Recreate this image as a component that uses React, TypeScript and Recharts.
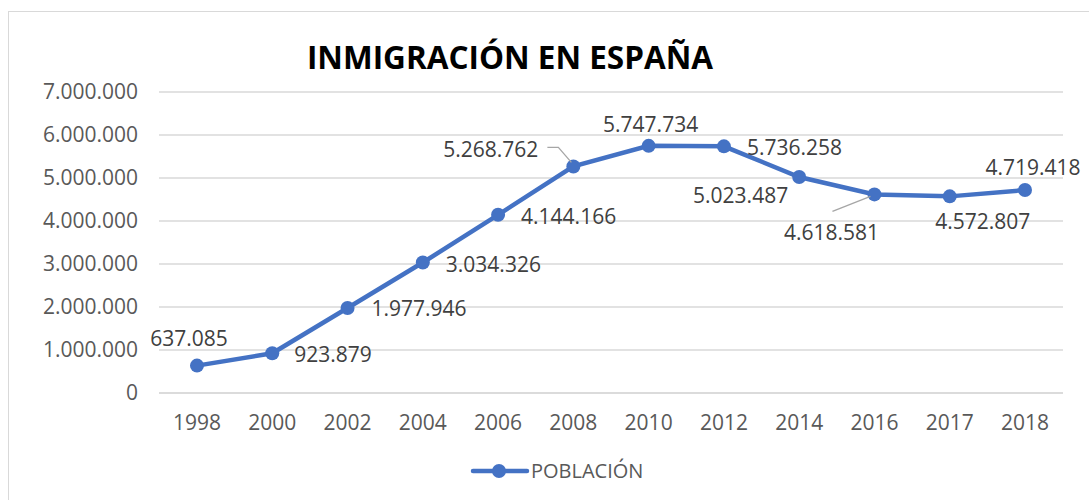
import { LineChart, Line, XAxis, YAxis, CartesianGrid } from "recharts";

const years = ["1998", "2000", "2002", "2004", "2006", "2008", "2010", "2012", "2014", "2016", "2017", "2018"];
const poblacion = [637085, 923879, 1977946, 3034326, 4144166, 5268762, 5747734, 5736258, 5023487, 4618581, 4572807, 4719418];
const yTicks = [0, 1000000, 2000000, 3000000, 4000000, 5000000, 6000000, 7000000];

const data = years.map((year, i) => ({ year, value: poblacion[i] }));

// where each data label sits relative to its point: [dx, dy, anchor]
const labelPos: Array<[number, number, "start" | "middle" | "end"]> = [
  [-8, -27, "middle"],
  [22, 1, "start"],
  [24, 1, "start"],
  [23, 2, "start"],
  [23, 2, "start"],
  [-35, -17, "end"],
  [2, -21, "middle"],
  [23, 1, "start"],
  [-11, 19, "end"],
  [-43, 38, "middle"],
  [33, 25, "middle"],
  [8, -23, "middle"],
];

const blue = "#4472C4";
const font = "'Open Sans', sans-serif";

const fmt = (v: number) => String(v).replace(/\B(?=(\d{3})+(?!\d))/g, ".");

function DataLabel(props: any) {
  const { x, y, value, index } = props;
  const [dx, dy, anchor] = labelPos[index];
  return (
    <g>
      {index === 5 && (
        <polyline
          points={`${x - 26},${y - 19} ${x - 15},${y - 19} ${x - 2},${y - 4}`}
          fill="none"
          stroke="#a6a6a6"
          strokeWidth={1.3}
        />
      )}
      {index === 9 && (
        <line x1={x - 42} y1={y + 17} x2={x - 4} y2={y + 2} stroke="#a6a6a6" strokeWidth={1.3} />
      )}
      <text
        x={x + dx}
        y={y + dy}
        dy="0.355em"
        textAnchor={anchor}
        fill="#404040"
        fontSize={21}
        fontFamily={font}
      >
        {fmt(value)}
      </text>
    </g>
  );
}

export default function App() {
  return (
    <div style={{ position: "relative", width: 1089, height: 500, overflow: "hidden", background: "#fff" }}>
      <style>{`body{margin:0;overflow:hidden}`}</style>
      <div
        style={{
          position: "absolute",
          left: 8,
          top: 11,
          width: 1100,
          height: 500,
          border: "1px solid #d9d9d9",
          boxSizing: "border-box",
        }}
      />
      <div style={{ position: "absolute", left: 0, top: 0 }}>
        <LineChart width={1089} height={500} data={data} margin={{ top: 92, right: 26, bottom: 77, left: 0 }}>
          <CartesianGrid vertical={false} stroke="#d9d9d9" strokeWidth={1.3} />
          <XAxis
            dataKey="year"
            axisLine={{ stroke: "#d9d9d9", strokeWidth: 1.3 }}
            tickLine={false}
            height={30}
            tickMargin={16}
            padding={{ left: 38, right: 38 }}
            tick={{ fill: "#595959", fontSize: 21, fontFamily: font }}
            interval={0}
          />
          <YAxis
            width={159}
            domain={[0, 7000000]}
            ticks={yTicks}
            axisLine={false}
            tickLine={false}
            tickMargin={15}
            tickFormatter={fmt}
            tick={{ fill: "#595959", fontSize: 21, fontFamily: font }}
          />
          <Line
            dataKey="value"
            stroke={blue}
            strokeWidth={4.5}
            dot={{ r: 7, fill: blue, stroke: blue, strokeWidth: 0 }}
            activeDot={false}
            label={DataLabel}
            isAnimationActive={false}
          />
        </LineChart>
      </div>
      <svg width={1089} height={500} style={{ position: "absolute", left: 0, top: 0, pointerEvents: "none" }}>
        <text x={510} y={69} textAnchor="middle" fontFamily={font} fontWeight={700} fontSize={31.5} fill="#000">
          INMIGRACIÓN EN ESPAÑA
        </text>
        <line x1={473} y1={471} x2={527} y2={471} stroke={blue} strokeWidth={4.5} strokeLinecap="round" />
        <circle cx={499} cy={471} r={7} fill={blue} />
        <text x={531} y={471} dy="0.355em" fontFamily={font} fontSize={20} fill="#595959">
          POBLACIÓN
        </text>
      </svg>
    </div>
  );
}
